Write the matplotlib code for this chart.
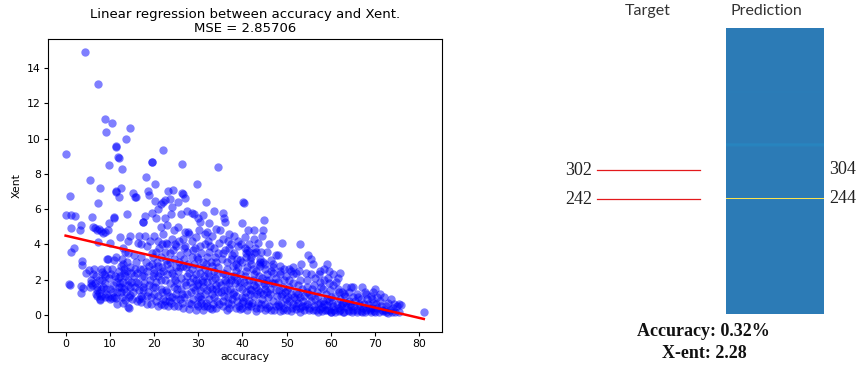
import matplotlib

matplotlib.use("Agg")
import matplotlib.pyplot as plt
import numpy as np
from matplotlib.colors import LinearSegmentedColormap

# (accuracy, xent) pairs per accuracy band
band_00_05 = [
    (0.0, 5.67), (1.2, 5.69), (2.2, 5.59), (0.2, 9.14), (1.0, 6.74), (0.8, 1.75), (1.0, 1.72),
    (1.3, 4.92), (1.2, 3.55), (2.0, 3.78), (3.3, 4.84), (3.5, 5.13), (3.6, 3.04), (3.6, 2.85),
    (3.5, 1.25), (3.5, 1.65), (4.0, 1.55), (4.5, 2.4), (5.2, 2.55), (5.5, 7.67), (4.45, 14.89),
]
band_05_10 = [
    (6.0, 5.55), (6.3, 5.0), (6.6, 4.95), (7.0, 4.8), (7.3, 4.15), (7.5, 4.9), (8.0, 4.75),
    (8.5, 4.65), (9.0, 4.7), (9.5, 4.8), (6.5, 2.6), (6.8, 2.2), (7.0, 1.4), (7.2, 1.1),
    (7.5, 1.25), (7.8, 0.85), (7.7, 0.9), (8.0, 2.6), (8.2, 2.45), (8.5, 1.6), (9.0, 1.8),
    (9.2, 1.2), (9.5, 3.2), (9.3, 3.15), (9.8, 2.1), (10.0, 1.5), (8.8, 1.0), (6.0, 1.7),
    (5.8, 1.8), (7.7, 7.22), (7.4, 6.33), (7.3, 13.07), (9.0, 11.13), (9.05, 10.39), (9.7, 8.48),
    (5.7, 2.0), (8.3, 2.0), (9.8, 5.2), (10.0, 4.1), (6.8, 1.2), (8.0, 1.5), (9.4, 2.6),
    (5.5, 1.6), (6.2, 2.3), (6.7, 1.8), (7.1, 1.6), (7.6, 2.0), (8.1, 1.1), (8.6, 2.3),
    (9.1, 1.5), (9.6, 1.0), (8.9, 2.2),
]
band_10_15 = [
    (10.6, 10.88), (11.4, 9.6), (11.5, 9.55), (11.9, 8.94), (12.0, 8.9), (12.8, 8.27),
    (11.3, 7.03), (11.4, 7.0), (12.6, 7.22), (12.0, 6.71), (13.7, 9.96), (14.5, 10.58),
    (10.9, 5.55), (11.0, 5.5), (13.8, 5.74), (12.2, 4.4), (13.0, 3.8), (13.5, 3.6), (14.0, 4.2),
    (14.5, 4.5), (11.0, 3.1), (11.5, 3.3), (12.0, 2.5), (12.5, 2.8), (13.0, 1.9), (13.5, 2.2),
    (14.0, 2.0), (14.5, 1.6), (10.5, 2.6), (11.0, 1.0), (11.5, 0.95), (12.0, 1.6), (12.5, 1.3),
    (13.0, 0.7), (13.5, 0.85), (14.0, 0.45), (14.3, 0.4), (14.6, 1.15), (10.8, 1.7), (11.8, 2.1),
    (12.8, 3.2), (13.2, 1.5), (14.8, 2.4), (14.2, 3.5), (10.4, 0.95), (12.3, 1.8), (13.8, 3.0),
    (14.6, 2.7), (11.2, 2.2), (13.3, 2.6), (12.7, 1.0), (14.9, 1.9), (10.2, 2.3), (10.7, 1.3),
    (11.3, 1.9), (11.7, 1.3), (12.2, 2.2), (12.6, 1.6), (13.1, 2.4), (13.6, 1.3), (14.1, 1.7),
    (14.4, 1.0), (10.1, 0.9), (11.6, 0.6), (12.9, 2.9), (13.9, 2.5),
]
band_15_20 = [
    (15.2, 6.93), (15.7, 6.71), (15.9, 6.7), (17.4, 5.29), (17.5, 5.25), (18.2, 7.8),
    (18.6, 7.03), (18.9, 6.78), (19.5, 8.67), (19.6, 8.65), (16.5, 4.5), (17.0, 4.0), (17.0, 3.3),
    (18.0, 4.5), (18.5, 3.9), (19.0, 4.2), (19.5, 3.5), (15.5, 3.4), (16.0, 3.0), (16.8, 2.6),
    (17.2, 2.2), (17.8, 2.2), (18.3, 2.5), (18.8, 2.8), (19.5, 2.9), (15.4, 2.2), (16.0, 1.9),
    (16.6, 1.4), (17.0, 1.1), (17.3, 0.95), (17.0, 0.75), (18.3, 0.65), (18.7, 1.3), (19.3, 1.0),
    (19.8, 1.6), (15.7, 1.6), (16.2, 2.4), (19.0, 2.0), (18.0, 5.6), (19.5, 5.8), (17.8, 1.8),
    (15.0, 0.9), (16.3, 4.1), (19.8, 3.3), (16.1, 0.8), (18.1, 3.0), (17.6, 1.4), (19.9, 2.4),
    (15.3, 1.3), (16.4, 1.8), (17.6, 2.6), (18.4, 1.1), (19.2, 0.6), (19.7, 2.2), (18.9, 1.7),
    (17.4, 1.6), (16.7, 0.9), (15.8, 2.6),
]
band_20_25 = [
    (20.2, 6.48), (20.3, 7.42), (21.0, 6.0), (21.5, 6.3), (22.0, 6.4), (22.5, 6.5), (22.1, 9.33),
    (23.2, 7.03), (24.3, 7.08), (23.5, 6.6), (24.0, 6.1), (20.5, 5.5), (21.5, 5.0), (22.5, 5.5),
    (23.0, 5.1), (24.5, 4.8), (20.0, 4.5), (21.0, 4.2), (22.0, 4.6), (23.0, 4.0), (24.0, 4.3),
    (25.0, 3.9), (20.5, 3.6), (21.5, 3.3), (22.5, 3.6), (23.5, 3.5), (24.5, 3.2), (20.0, 2.6),
    (21.0, 2.8), (22.0, 2.5), (23.0, 2.9), (24.0, 2.4), (25.0, 2.7), (20.5, 1.9), (21.5, 1.5),
    (22.5, 2.0), (23.5, 1.8), (24.5, 1.6), (20.0, 1.2), (21.0, 1.1), (22.0, 0.9), (23.0, 1.3),
    (24.0, 1.0), (25.0, 1.2), (21.5, 0.6), (22.2, 0.55), (23.3, 0.8), (24.5, 0.5), (20.8, 2.2),
    (22.8, 3.1), (24.8, 2.0), (21.8, 4.0), (23.8, 5.7), (20.4, 0.8), (21.2, 3.8), (22.6, 1.4),
    (23.6, 2.6), (24.2, 3.7), (21.6, 2.0), (23.1, 0.5), (20.3, 1.6), (20.9, 0.5), (21.3, 2.4),
    (21.9, 1.3), (22.4, 0.8), (22.9, 2.3), (23.4, 1.1), (23.9, 0.7), (24.4, 2.2), (24.9, 0.9),
    (20.7, 3.0), (21.7, 2.7), (22.7, 4.1), (23.7, 3.0), (24.7, 4.0),
]
band_25_30 = [
    (25.5, 6.39), (26.3, 6.9), (26.5, 6.85), (27.1, 6.63), (26.3, 8.56), (29.7, 7.41),
    (26.0, 5.7), (27.5, 5.9), (28.5, 5.8), (29.0, 5.7), (25.5, 5.0), (26.5, 4.3), (27.0, 4.7),
    (28.0, 4.6), (28.5, 4.2), (29.5, 4.4), (25.8, 3.4), (26.8, 3.2), (27.5, 3.6), (28.5, 3.3),
    (29.3, 3.8), (25.5, 2.5), (26.5, 2.8), (27.5, 2.2), (28.5, 2.6), (29.5, 2.3), (25.2, 1.8),
    (26.2, 1.5), (27.2, 1.7), (28.2, 1.9), (29.2, 1.4), (25.8, 0.9), (26.8, 1.0), (27.8, 0.7),
    (28.8, 0.9), (29.8, 0.6), (25.5, 0.5), (26.5, 0.4), (28.0, 0.35), (29.5, 0.3), (27.0, 3.9),
    (29.0, 2.9), (26.0, 2.1), (28.3, 1.3), (29.8, 1.7), (27.7, 4.7), (26.3, 1.2), (28.9, 2.1),
    (27.3, 2.7), (25.7, 4.2), (25.3, 1.5), (25.9, 2.7), (26.4, 0.7), (26.9, 1.9), (27.4, 1.2),
    (27.9, 2.4), (28.4, 0.6), (28.9, 1.6), (29.4, 2.0), (29.9, 1.0), (25.7, 3.0), (26.7, 3.8),
    (27.7, 2.9), (28.7, 3.7), (29.7, 3.3),
]
band_30_35 = [
    (31.8, 6.39), (30.0, 5.5), (30.5, 5.3), (31.0, 5.65), (32.5, 5.2), (33.5, 5.91), (34.4, 8.41),
    (30.2, 4.8), (31.5, 4.6), (32.0, 4.7), (33.0, 4.5), (34.0, 4.9), (30.5, 3.9), (31.5, 4.0),
    (32.5, 3.6), (33.5, 3.8), (34.5, 3.5), (30.0, 3.2), (31.0, 3.0), (32.0, 3.3), (33.0, 2.8),
    (34.0, 3.0), (30.5, 2.4), (31.5, 2.6), (32.5, 2.2), (33.5, 2.5), (34.5, 2.7), (30.0, 1.8),
    (31.0, 1.6), (32.0, 1.9), (33.0, 1.5), (34.0, 1.7), (30.5, 1.1), (31.5, 1.2), (32.5, 0.9),
    (33.5, 1.0), (34.5, 1.3), (30.0, 0.5), (31.0, 0.3), (32.0, 0.5), (33.0, 0.35), (34.0, 0.4),
    (30.8, 2.0), (32.8, 3.0), (34.8, 1.9), (31.8, 0.7), (33.8, 2.1), (30.3, 1.4), (32.3, 4.2),
    (31.2, 2.2), (33.2, 1.2), (34.2, 0.8), (30.7, 0.9), (32.7, 1.6), (30.2, 2.7), (30.6, 0.7),
    (31.1, 1.9), (31.4, 0.5), (31.9, 1.4), (32.2, 2.4), (32.6, 0.4), (33.1, 2.0), (33.4, 0.6),
    (33.9, 1.5), (34.3, 2.3), (34.7, 0.6), (30.7, 3.5), (31.7, 2.9), (32.7, 3.9), (33.7, 3.3),
    (34.7, 4.1),
]
band_35_40 = [
    (35.5, 5.8), (35.8, 5.5), (36.0, 5.3), (35.0, 4.8), (35.5, 4.3), (37.0, 4.6), (38.0, 4.5),
    (39.0, 4.2), (36.0, 3.7), (37.0, 3.8), (38.0, 3.5), (39.0, 3.9), (35.3, 3.2), (36.5, 3.0),
    (37.5, 3.2), (38.5, 2.9), (39.5, 3.1), (35.5, 2.4), (36.5, 2.6), (37.5, 2.2), (38.5, 2.5),
    (39.5, 2.3), (35.2, 1.7), (36.2, 1.9), (37.2, 1.5), (38.2, 1.8), (39.2, 1.6), (35.8, 1.1),
    (36.8, 1.0), (37.8, 1.2), (38.8, 0.8), (39.8, 1.0), (35.5, 0.5), (36.5, 0.3), (37.5, 0.6),
    (38.5, 0.4), (39.5, 0.35), (40.2, 6.39), (40.3, 6.35), (39.8, 5.2), (37.5, 4.0), (36.0, 2.0),
    (38.0, 1.3), (39.0, 2.7), (36.8, 0.7), (37.8, 2.8), (35.9, 1.4), (38.8, 2.0), (37.0, 1.8),
    (35.1, 1.3), (35.6, 0.8), (36.1, 2.3), (36.4, 1.4), (36.9, 0.4), (37.3, 2.0), (37.7, 0.9),
    (38.1, 2.2), (38.6, 1.1), (39.1, 0.5), (39.4, 1.9), (39.9, 0.7), (35.7, 3.5), (36.7, 4.2),
    (37.7, 3.4), (38.7, 3.2), (39.7, 4.0),
]
band_40_45 = [
    (41.2, 4.8), (42.7, 4.8), (44.8, 5.4), (44.7, 4.8), (40.5, 4.4), (41.5, 4.0), (42.5, 4.3),
    (43.5, 4.1), (44.5, 4.5), (40.5, 3.8), (41.0, 3.7), (41.5, 3.6), (42.0, 3.3), (43.0, 3.6),
    (44.0, 3.2), (40.0, 3.0), (41.0, 2.7), (42.0, 2.9), (43.0, 2.5), (44.0, 2.8), (45.0, 2.6),
    (40.5, 2.2), (41.5, 2.0), (42.5, 2.3), (43.5, 1.9), (44.5, 2.1), (40.0, 1.5), (41.0, 1.7),
    (42.0, 1.4), (43.0, 1.6), (44.0, 1.3), (45.0, 1.5), (40.5, 1.0), (41.5, 0.8), (42.5, 1.1),
    (43.5, 0.7), (44.5, 0.9), (40.0, 0.4), (41.0, 0.3), (42.0, 0.5), (43.0, 0.25), (44.0, 0.4),
    (45.0, 0.3), (42.8, 3.8), (40.8, 2.5), (43.8, 2.2), (41.8, 1.2), (44.3, 3.6), (41.3, 0.6),
    (42.3, 2.0), (43.3, 1.2), (40.3, 1.9), (44.8, 1.8), (40.2, 0.8), (40.7, 1.3), (41.2, 0.5),
    (41.7, 1.5), (42.1, 0.7), (42.6, 1.7), (43.1, 0.4), (43.6, 1.4), (44.1, 0.6), (44.6, 1.2),
    (40.9, 3.3), (42.4, 2.6), (43.9, 3.0), (40.7, 3.5), (41.7, 3.1), (42.7, 3.5), (43.7, 2.9),
    (44.7, 3.0),
]
band_45_50 = [
    (46.0, 4.0), (47.5, 3.4), (48.0, 3.4), (49.0, 4.1), (45.5, 3.6), (46.5, 3.1), (47.0, 2.9),
    (48.5, 2.8), (49.5, 2.6), (45.5, 2.3), (46.5, 2.5), (47.5, 2.1), (48.5, 2.3), (49.5, 2.0),
    (45.2, 1.7), (46.2, 1.5), (47.2, 1.8), (48.2, 1.4), (49.2, 1.6), (45.8, 1.0), (46.8, 0.8),
    (47.8, 1.1), (48.8, 0.7), (49.8, 0.9), (45.5, 0.4), (46.5, 0.3), (47.5, 0.5), (48.5, 0.25),
    (49.5, 0.4), (47.0, 2.4), (48.0, 1.9), (49.0, 1.2), (46.0, 2.0), (45.0, 2.9), (46.3, 1.2),
    (48.3, 0.5), (45.1, 0.6), (45.6, 1.3), (46.1, 0.5), (46.6, 1.8), (47.1, 0.3), (47.6, 1.4),
    (48.1, 0.6), (48.6, 1.1), (49.1, 0.3), (49.6, 1.3), (45.4, 2.0), (46.9, 2.7), (48.4, 2.5),
    (49.9, 2.2),
]
band_50_55 = [
    (50.5, 2.6), (51.0, 2.5), (51.5, 2.3), (52.0, 2.4), (53.0, 4.0), (53.3, 2.9), (54.5, 2.0),
    (50.5, 2.0), (51.5, 1.8), (52.5, 1.7), (53.5, 1.5), (54.5, 1.6), (50.0, 1.4), (51.0, 1.2),
    (52.0, 1.3), (53.0, 1.0), (54.0, 1.1), (55.0, 1.2), (50.5, 0.8), (51.5, 0.6), (52.5, 0.7),
    (53.5, 0.5), (54.5, 0.6), (50.0, 0.3), (51.0, 0.25), (52.0, 0.35), (53.0, 0.2), (54.0, 0.3),
    (55.0, 0.4), (52.8, 2.5), (50.2, 1.0), (54.8, 3.4), (52.2, 0.9), (50.1, 0.6), (50.6, 1.6),
    (51.1, 0.4), (51.6, 1.0), (52.1, 0.5), (52.6, 1.2), (53.1, 0.4), (53.6, 0.8), (54.1, 0.5),
    (54.6, 1.3), (51.4, 2.7), (52.9, 2.0), (54.4, 2.4),
]
band_55_60 = [
    (55.5, 3.2), (56.0, 2.9), (57.5, 2.5), (58.5, 2.6), (59.0, 2.9), (59.5, 2.5), (55.5, 2.3),
    (56.5, 2.1), (57.5, 1.9), (58.5, 2.0), (59.5, 1.8), (55.8, 1.5), (56.8, 1.3), (57.8, 1.6),
    (58.8, 1.2), (59.8, 1.4), (55.5, 0.8), (56.5, 0.9), (57.5, 0.7), (58.5, 0.6), (59.5, 0.8),
    (56.0, 0.3), (57.0, 0.2), (58.0, 0.25), (59.0, 0.3), (60.0, 0.2), (57.0, 1.1), (58.0, 0.45),
    (59.0, 0.55), (55.1, 0.3), (55.6, 1.1), (56.1, 0.5), (56.6, 0.3), (57.1, 0.6), (57.6, 0.35),
    (58.1, 0.8), (58.6, 0.3), (59.1, 0.9), (59.6, 0.3), (56.2, 1.7), (57.2, 2.3), (58.2, 1.5),
    (59.3, 2.1),
]
band_60_65 = [
    (60.5, 2.3), (61.5, 2.1), (62.0, 2.4), (60.5, 1.7), (61.5, 1.5), (62.5, 1.3), (63.5, 1.6),
    (64.5, 1.6), (60.0, 1.0), (61.0, 1.1), (62.0, 0.9), (63.0, 1.2), (64.0, 0.8), (65.0, 1.0),
    (60.5, 0.5), (61.5, 0.4), (62.5, 0.6), (63.5, 0.45), (64.5, 0.5), (60.0, 0.2), (61.0, 0.15),
    (62.0, 0.3), (63.0, 0.2), (64.0, 0.25), (65.0, 0.3), (65.0, 1.6), (62.8, 0.7), (61.8, 1.3),
    (60.3, 0.7), (60.8, 0.3), (61.3, 0.6), (61.8, 0.25), (62.3, 0.5), (62.8, 0.2), (63.3, 0.7),
    (63.8, 0.3), (64.3, 0.6), (64.8, 0.2), (61.2, 1.9), (63.2, 1.1), (64.2, 1.3),
]
band_65_81 = [
    (65.5, 0.8), (66.0, 1.2), (67.0, 1.6), (68.0, 1.2), (69.0, 1.1), (66.5, 0.5), (67.5, 0.6),
    (68.5, 0.4), (69.5, 0.7), (66.0, 0.2), (67.0, 0.15), (68.0, 0.3), (69.0, 0.2), (70.0, 0.15),
    (70.0, 1.5), (69.5, 1.3), (68.2, 0.9), (66.8, 0.9), (70.5, 1.0), (70.5, 0.4), (71.0, 0.8),
    (72.0, 1.0), (71.5, 0.3), (72.5, 0.5), (73.0, 0.1), (73.5, 0.9), (72.5, 0.2), (74.0, 0.4),
    (75.0, 0.5), (75.5, 0.6), (75.8, 0.55), (75.5, 0.2), (71.8, 0.25), (74.5, 0.15), (81.0, 0.2),
    (65.3, 0.5), (65.8, 0.3), (66.3, 0.6), (66.8, 0.25), (67.3, 0.4), (67.8, 0.2), (68.3, 0.6),
    (68.8, 0.3), (69.3, 0.4), (69.8, 0.25), (70.3, 0.6), (70.8, 0.2), (71.3, 0.5), (72.2, 0.3),
    (72.8, 0.7), (73.3, 0.3), (74.2, 0.6), (66.2, 1.0), (67.6, 1.3), (69.2, 0.9), (71.2, 1.2),
    (73.8, 0.2),
]

fit_intercept = 4.50
fit_slope = -0.0583
mse = 2.85706

# prediction distribution over classes (column on the right)
n_classes = 600
target_labels = [302, 242]
pred_labels = [304, 244]
pred_peak = 244
pred_bumps = {352: 0.05, 353: 0.08, 354: 0.10, 355: 0.12, 356: 0.12, 357: 0.10, 358: 0.08,
              359: 0.05, 463: 0.02, 464: 0.03, 465: 0.02}
accuracy_pct = 0.32
xent_value = 2.28

all_points = np.array(
    band_00_05 + band_05_10 + band_10_15 + band_15_20 + band_20_25 + band_25_30 + band_30_35
    + band_35_40 + band_40_45 + band_45_50 + band_50_55 + band_55_60 + band_60_65 + band_65_81
)
accuracy = all_points[:, 0]
xent = all_points[:, 1]

fig = plt.figure(figsize=(8.61, 3.70), dpi=100)

ax = fig.add_axes([0.0554, 0.1019, 0.4576, 0.7927])
ax.scatter(accuracy, xent, s=36, c="blue", alpha=0.5, linewidths=0)
line_x = np.array([accuracy.min(), accuracy.max()])
ax.plot(line_x, fit_intercept + fit_slope * line_x, color="red", linewidth=1.8)
ax.set_title(f"Linear regression between accuracy and Xent.\nMSE = {mse}", fontsize=9.5, pad=5,
             linespacing=1.15)
ax.set_xlabel("accuracy", fontsize=7.8, labelpad=2)
ax.set_ylabel("Xent", fontsize=7.8, labelpad=4)
ax.set_xticks(np.arange(0, 81, 10))
ax.set_yticks(np.arange(0, 15, 2))
ax.tick_params(labelsize=7.8, length=3, pad=2)

# column image of the predicted probabilities
probs = np.zeros(n_classes)
for cls, val in pred_bumps.items():
    probs[cls] = val
probs[pred_peak] = 1.0
cmap = LinearSegmentedColormap.from_list("pred", ["#2c7bb6", "#1aa6e0", "#fbe34f"])

cax = fig.add_axes([0.8432, 0.1527, 0.1138, 0.7716])
cax.imshow(probs[:, None], cmap=cmap, vmin=0, vmax=1, aspect="auto", origin="lower",
           interpolation="nearest", extent=(0, 1, -0.5, n_classes - 0.5))
cax.set_ylim(5.7, 596.4)
cax.set_xlim(0, 1)
cax.axis("off")

# label and line positions follow the column's class scale
serif = ["Liberation Serif", "DejaVu Serif"]
for cls in target_labels:
    y_fig = fig.transFigure.inverted().transform(cax.transData.transform((0, cls)))[1]
    fig.add_artist(plt.Line2D([597 / 861, 700 / 861], [y_fig, y_fig], color="#e3191c",
                              linewidth=0.9, transform=fig.transFigure))
    fig.text(592 / 861, y_fig, str(cls), ha="right", va="center", fontsize=13, family=serif,
             color="#222222")
for cls in pred_labels:
    y_fig = fig.transFigure.inverted().transform(cax.transData.transform((0, cls)))[1]
    fig.text(829 / 861, y_fig, str(cls), ha="left", va="center", fontsize=13, family=serif,
             color="#222222")

fig.text(648 / 861, 1 - 11 / 370, "Target", ha="center", va="center", fontsize=11.5,
         family=["Lato", "DejaVu Sans"], color="#333333")
fig.text(766 / 861, 1 - 11 / 370, "Prediction", ha="center", va="center", fontsize=11.5,
         family=["Lato", "DejaVu Sans"], color="#333333")
fig.text(703 / 861, 1 - 331 / 370, f"Accuracy: {accuracy_pct}%", ha="center", va="center",
         fontsize=13, fontweight="bold", family=serif, color="#111111")
fig.text(704 / 861, 1 - 353 / 370, f"X-ent: {xent_value}", ha="center", va="center",
         fontsize=13, fontweight="bold", family=serif, color="#111111")

fig.savefig("out.png", dpi=100)
